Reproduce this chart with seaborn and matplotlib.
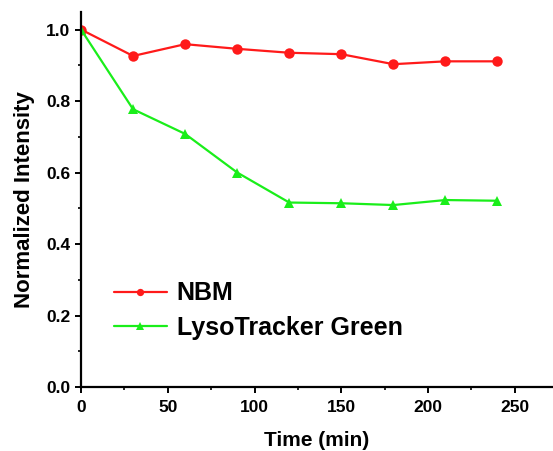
import matplotlib
matplotlib.use("Agg")
import matplotlib.pyplot as plt
import seaborn as sns
import pandas as pd
from matplotlib.ticker import MultipleLocator

time_min = [0, 30, 60, 90, 120, 150, 180, 210, 240]
nbm = [1.0, 0.926, 0.959, 0.946, 0.935, 0.931, 0.903, 0.911, 0.911]
lyso = [1.0, 0.777, 0.708, 0.600, 0.516, 0.514, 0.509, 0.523, 0.521]
series_names = ["NBM", "LysoTracker Green"]

df = pd.DataFrame({
    "Time": time_min * 2,
    "Intensity": nbm + lyso,
    "Series": [series_names[0]] * len(time_min) + [series_names[1]] * len(time_min),
})

sns.set_style("ticks")
plt.rcParams["font.family"] = ["Liberation Sans", "DejaVu Sans"]
plt.rcParams["text.color"] = "black"
plt.rcParams["axes.labelcolor"] = "black"
plt.rcParams["xtick.color"] = "black"
plt.rcParams["ytick.color"] = "black"

fig = plt.figure(figsize=(5.53, 4.51), dpi=100)
ax = fig.add_axes([81 / 553, 64 / 451, 472 / 553, 375 / 451])

sns.lineplot(
    data=df, x="Time", y="Intensity", hue="Series", style="Series",
    palette={"NBM": "#ff1a1a", "LysoTracker Green": "#1aee1a"},
    markers={"NBM": "o", "LysoTracker Green": "^"},
    dashes=False, linewidth=1.6, markersize=7.5, markeredgewidth=0,
    ax=ax,
)

ax.set_xlim(0, 272)
ax.set_ylim(0, 1.049)
ax.xaxis.set_major_locator(MultipleLocator(50))
ax.xaxis.set_minor_locator(MultipleLocator(25))
ax.yaxis.set_major_locator(MultipleLocator(0.2))
ax.yaxis.set_minor_locator(MultipleLocator(0.1))
ax.set_yticks([0, 0.2, 0.4, 0.6, 0.8, 1.0])
ax.set_yticklabels(["0.0", "0.2", "0.4", "0.6", "0.8", "1.0"])

for s in ["top", "right"]:
    ax.spines[s].set_visible(False)
for s in ["left", "bottom"]:
    ax.spines[s].set_linewidth(1.6)
    ax.spines[s].set_color("black")

ax.tick_params(which="major", length=4, width=1.4, labelsize=12.5, direction="out", colors="black")
ax.tick_params(which="minor", length=2.5, width=1.2, direction="out")
ax.tick_params(axis="x", pad=5)
for lbl in ax.get_xticklabels() + ax.get_yticklabels():
    lbl.set_fontweight("bold")

ax.set_xlabel("Time (min)", fontsize=15, fontweight="bold", labelpad=12)
ax.set_ylabel("Normalized Intensity", fontsize=16, fontweight="bold", labelpad=8)

leg = ax.legend(
    loc="center left", bbox_to_anchor=(0.049, 0.204), frameon=False,
    prop={"weight": "bold", "size": 18}, handlelength=2.1, handletextpad=0.4,
    labelspacing=0.42, markerscale=0.7, borderaxespad=0,
)

fig.savefig("out.png", dpi=100)
